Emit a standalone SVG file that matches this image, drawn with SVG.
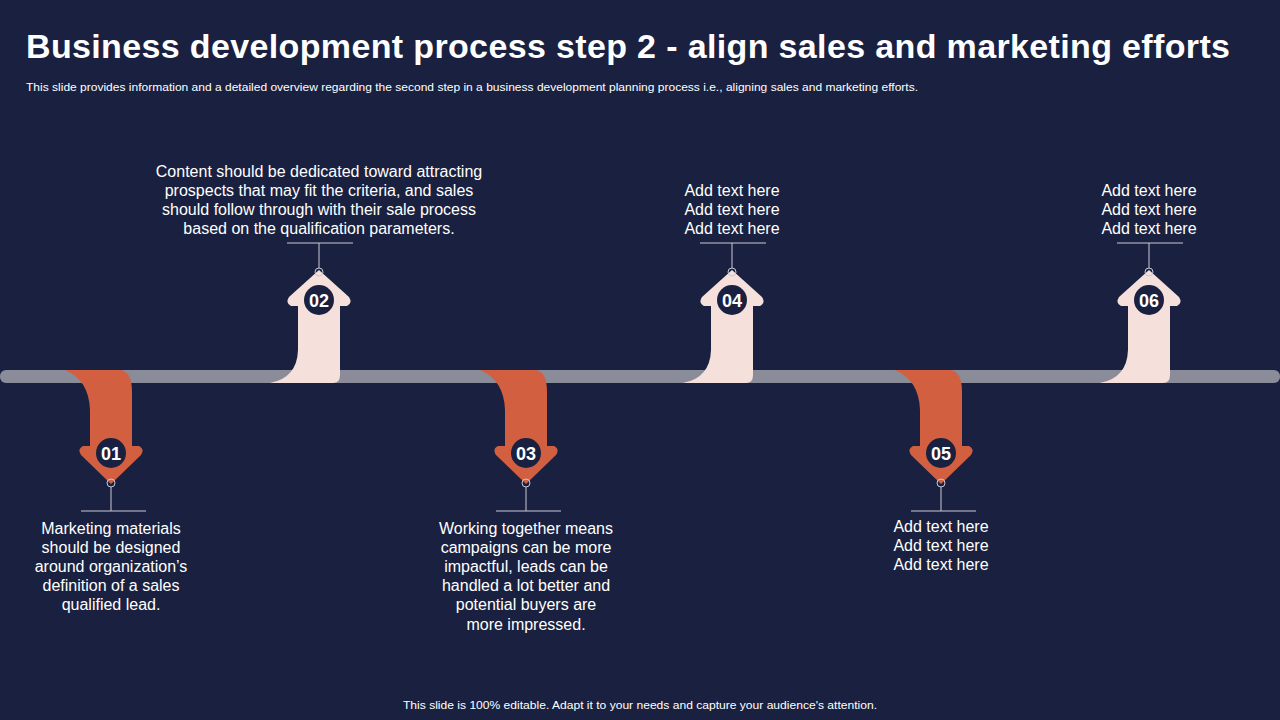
<svg xmlns="http://www.w3.org/2000/svg" width="1280" height="720" viewBox="0 0 1280 720">
<style>
text{font-family:"Liberation Sans",Arial,sans-serif;fill:#fff}
.t{font-size:16px;text-anchor:middle}
.n{font-size:18px;font-weight:bold;text-anchor:middle}
.l{stroke:#c9c9d6;stroke-width:1;fill:none}
.c{fill:#1a2140}
</style>
<defs>
<path id="down" d="M-46,370 L10,370 Q21,372 21,392 L21,446 L28,446 Q34,449 30,455 L0,484 L-30,455 Q-34,449 -28,446 L-21,446 L-21,410 Q-22,380 -46,370 Z" fill="#d15f40"/>
<path id="up" d="M-49,383 Q-22,378 -21,350 L-21,306 L-28,306 Q-34,303 -30,297 L0,270 L30,297 Q34,303 28,306 L21,306 L21,375 Q21,383 14,383 Z" fill="#f5e0dc"/>
</defs>
<rect width="1280" height="720" fill="#1a2140"/>
<text x="26" y="58" textLength="1204" lengthAdjust="spacing" style="font-size:34px;font-weight:bold">Business development process step 2 - align sales and marketing efforts</text>
<text x="26" y="91" textLength="892" lengthAdjust="spacingAndGlyphs" style="font-size:11px">This slide provides information and a detailed overview regarding the second step in a business development planning process i.e., aligning sales and marketing efforts.</text>
<text x="403" y="709" textLength="474" lengthAdjust="spacingAndGlyphs" style="font-size:11px">This slide is 100% editable. Adapt it to your needs and capture your audience's attention.</text>
<g id="connectors"><rect x="0" y="370" width="1280" height="13" rx="6" fill="#8a8c99"/></g>
<g id="n1" transform="translate(111,0)"><use href="#down"/><circle cx="0" cy="453" r="15" class="c"/><text y="460" class="n">01</text><circle cy="483" r="4" class="l"/><path d="M0,487V511M-30,511H35" class="l"/>
<text class="t" y="534">Marketing materials</text><text class="t" y="553">should be designed</text><text class="t" y="572">around organization’s</text><text class="t" y="591">definition of a sales</text><text class="t" y="610">qualified lead.</text></g>
<g id="n3" transform="translate(526,0)"><use href="#down"/><circle cx="0" cy="453" r="15" class="c"/><text y="460" class="n">03</text><circle cy="483" r="4" class="l"/><path d="M0,487V511M-30,511H35" class="l"/>
<text class="t" y="534">Working together means</text><text class="t" y="553">campaigns can be more</text><text class="t" y="572">impactful, leads can be</text><text class="t" y="591">handled a lot better and</text><text class="t" y="610">potential buyers are</text><text class="t" y="630">more impressed.</text></g>
<g id="n5" transform="translate(941,0)"><use href="#down"/><circle cx="0" cy="453" r="15" class="c"/><text y="460" class="n">05</text><circle cy="483" r="4" class="l"/><path d="M0,487V511M-30,511H35" class="l"/>
<text class="t" y="532">Add text here</text><text class="t" y="551">Add text here</text><text class="t" y="570">Add text here</text></g>
<g id="n2" transform="translate(319,0)"><use href="#up"/><circle cx="0" cy="300" r="15" class="c"/><text y="307" class="n">02</text><circle cy="272" r="4" class="l"/><path d="M0,268V243M-32,243H34" class="l"/>
<text class="t" y="177">Content should be dedicated toward attracting</text><text class="t" y="196">prospects that may fit the criteria, and sales</text><text class="t" y="215">should follow through with their sale process</text><text class="t" y="234">based on the qualification parameters.</text></g>
<g id="n4" transform="translate(732,0)"><use href="#up"/><circle cx="0" cy="300" r="15" class="c"/><text y="307" class="n">04</text><circle cy="272" r="4" class="l"/><path d="M0,268V243M-32,243H34" class="l"/>
<text class="t" y="196">Add text here</text><text class="t" y="215">Add text here</text><text class="t" y="234">Add text here</text></g>
<g id="n6" transform="translate(1149,0)"><use href="#up"/><circle cx="0" cy="300" r="15" class="c"/><text y="307" class="n">06</text><circle cy="272" r="4" class="l"/><path d="M0,268V243M-32,243H34" class="l"/>
<text class="t" y="196">Add text here</text><text class="t" y="215">Add text here</text><text class="t" y="234">Add text here</text></g>
</svg>
